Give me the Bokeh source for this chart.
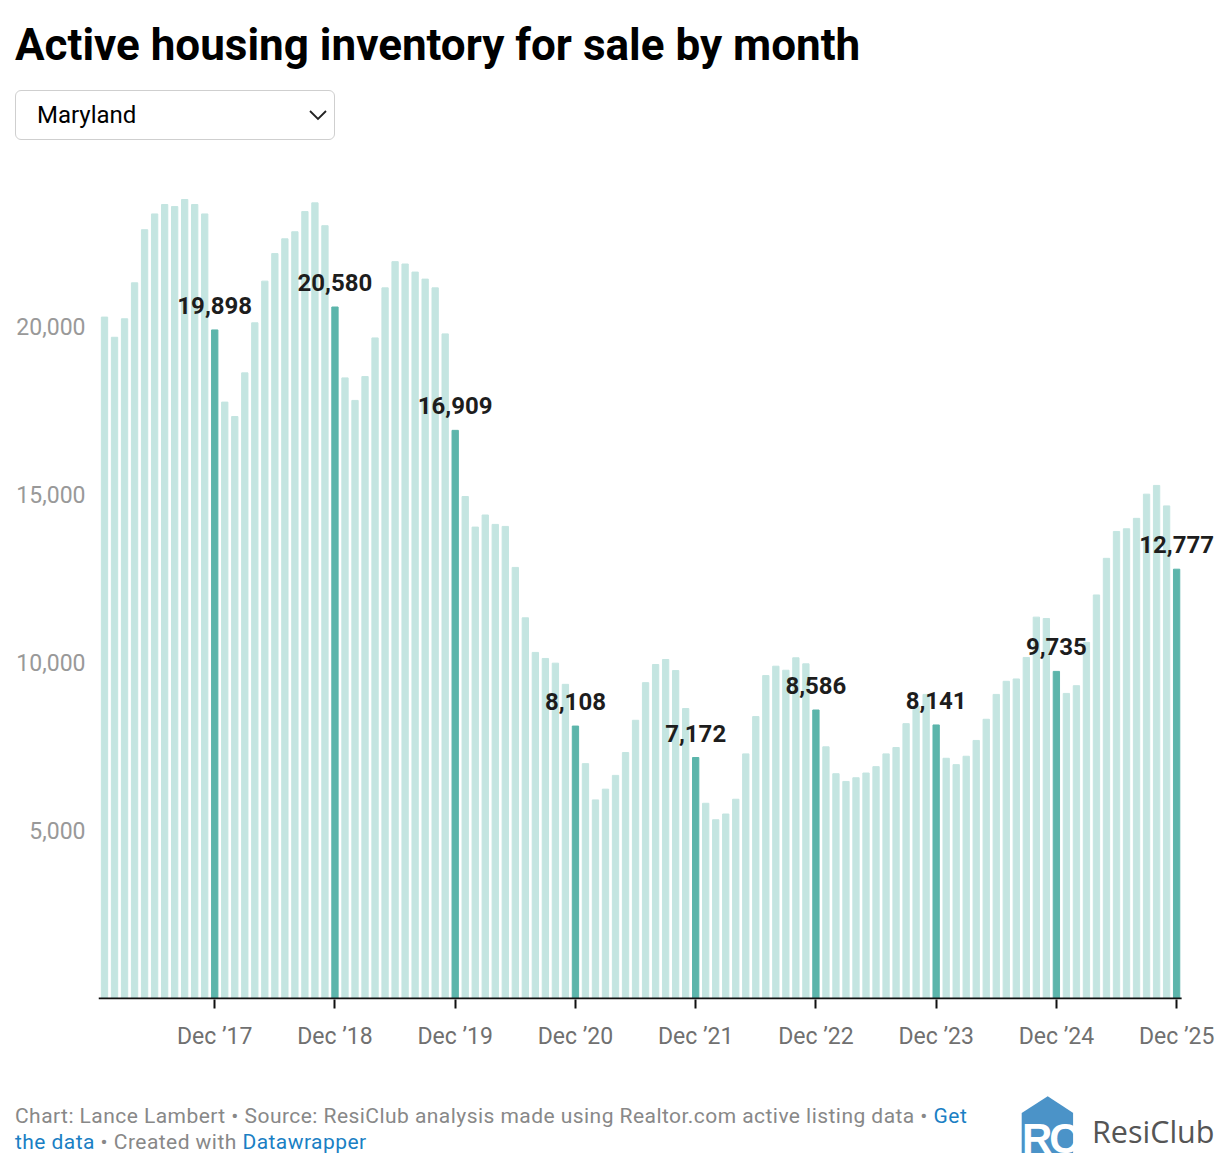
from bokeh.plotting import figure
from bokeh.models import (Range1d, FixedTicker, ColumnDataSource, LabelSet, Div,
                          NumeralTickFormatter)
from bokeh.core.properties import value
from bokeh.layouts import column
from bokeh.embed import file_html
from bokeh.resources import INLINE

# ---- data ----
years = [2017, 2018, 2019, 2020, 2021, 2022, 2023, 2024, 2025]
month_names = ["Jan", "Feb", "Mar", "Apr", "May", "Jun", "Jul", "Aug", "Sep", "Oct", "Nov", "Dec"]

inv_2017 = [20280, 19680, 20230, 21300, 22880, 23350, 23630, 23570, 23780, 23630, 23350, 19898]
inv_2018 = [17750, 17320, 18620, 20110, 21350, 22170, 22610, 22820, 23420, 23680, 23000, 20580]
inv_2019 = [18470, 17800, 18510, 19660, 21150, 21930, 21860, 21620, 21410, 21150, 19780, 16909]
inv_2020 = [14940, 14030, 14390, 14110, 14050, 12830, 11330, 10300, 10120, 9980, 9350, 8108]
inv_2021 = [6990, 5910, 6230, 6640, 7320, 8280, 9400, 9940, 10090, 9760, 8630, 7172]
inv_2022 = [5810, 5320, 5490, 5930, 7280, 8390, 9610, 9890, 9770, 10140, 9960, 8586]
inv_2023 = [7490, 6690, 6460, 6570, 6710, 6900, 7280, 7470, 8180, 8700, 9050, 8141]
inv_2024 = [7150, 6960, 7210, 7680, 8310, 9050, 9440, 9510, 10150, 11350, 11310, 9735]
inv_2025 = [9080, 9310, 10600, 12010, 13100, 13900, 13980, 14290, 15010, 15270, 14660, 12777]

x_tick_labels = ["Dec \u201917", "Dec \u201918", "Dec \u201919", "Dec \u201920", "Dec \u201921",
                 "Dec \u201922", "Dec \u201923", "Dec \u201924", "Dec \u201925"]
y_ticks = [5000, 10000, 15000, 20000]

state = "Maryland"
title_text = "Active housing inventory for sale by month"

# ---- build sources ----
inventory = inv_2017 + inv_2018 + inv_2019 + inv_2020 + inv_2021 + inv_2022 + inv_2023 + inv_2024 + inv_2025
months = [f"{m} {y}" for y in years for m in month_names]
idx = list(range(len(inventory)))
is_dec = [m.startswith("Dec") for m in months]

LIGHT = "#c4e5e1"
DARK = "#5cb5ab"
colors = [DARK if d else LIGHT for d in is_dec]

bar_src = ColumnDataSource(dict(x=idx, value=inventory, color=colors, month=months))

dec_idx = [i for i in idx if is_dec[i]]
lab_src = ColumnDataSource(dict(
    x=dec_idx,
    value=[inventory[i] for i in dec_idx],
    label=[f"{inventory[i]:,}" for i in dec_idx],
))

# ---- chart ----
FIG_W = 1218
p = figure(width=FIG_W, height=915,
           x_range=Range1d(-0.6, 110.98), y_range=Range1d(-30, 25000),
           output_backend="svg", toolbar_location=None,
           min_border_left=98, min_border_right=2, min_border_top=12, min_border_bottom=62)
p.vbar(x="x", top="value", width=0.63, color="color", source=bar_src)

# baseline (x axis line) only under the bars
p.segment(x0=[idx[0] - 0.6], x1=[idx[-1] + 0.5], y0=[0], y1=[0],
          line_color="#111111", line_width=2)

p.xgrid.visible = False
p.ygrid.visible = False
p.outline_line_color = None
p.background_fill_color = "white"
p.border_fill_color = "white"

xa = p.xaxis[0]
xa.ticker = FixedTicker(ticks=dec_idx)
xa.major_label_overrides = {i: lab for i, lab in zip(dec_idx, x_tick_labels)}
xa.axis_line_color = None
xa.major_tick_line_color = "#111111"
xa.major_tick_line_width = 2
xa.major_tick_out = 9
xa.major_tick_in = 0
xa.minor_tick_line_color = None
xa.major_label_standoff = 14
xa.major_label_text_font = "Roboto"
xa.major_label_text_font_size = "23px"
xa.major_label_text_color = "#707070"

ya = p.yaxis[0]
ya.ticker = FixedTicker(ticks=y_ticks)
ya.formatter = NumeralTickFormatter(format="0,0")
ya.axis_line_color = None
ya.major_tick_line_color = None
ya.minor_tick_line_color = None
ya.major_tick_out = 0
ya.major_tick_in = 0
ya.major_label_standoff = 13
ya.major_label_text_font = "Roboto"
ya.major_label_text_font_size = "23px"
ya.major_label_text_color = "#999999"

labels = LabelSet(x="x", y="value", text="label", source=lab_src,
                  text_align="center", text_baseline="alphabetic", y_offset=16,
                  text_font=value("Roboto"), text_font_size=value("24px"),
                  text_font_style=value("bold"), text_color=value("#1d1d1d"))
p.add_layout(labels)

# ---- header / footer ----
title_div = Div(text=(
    '<div style="margin:19px 0 0 15px;font-family:Roboto;font-weight:700;font-size:44px;'
    'line-height:52px;color:#000;white-space:nowrap">' + title_text + '</div>'),
    width=FIG_W, height=86, margin=0)

dd_div = Div(text=(
    '<div style="margin:4px 0 0 15px;box-sizing:border-box;width:320px;height:50px;'
    'border:1.5px solid #cfcfcf;border-radius:6px;display:flex;align-items:center;'
    'justify-content:space-between;padding:0 6px 0 21px;font-family:Roboto;font-size:24px;color:#000">'
    '<span>' + state + '</span>'
    '<svg width="20" height="12" viewBox="0 0 20 12"><polyline points="2,2 10,10 18,2" '
    'fill="none" stroke="#222" stroke-width="1.8"/></svg></div>'),
    width=FIG_W, height=60, margin=0)

footer_div = Div(text=(
    '<div style="position:relative;width:1218px;height:108px">'
    '<div style="position:absolute;left:15px;top:43px;font-family:Roboto;font-size:21px;'
    'letter-spacing:0.45px;line-height:25.5px;color:#888888;white-space:nowrap">'
    'Chart: Lance Lambert \u2022 Source: ResiClub analysis made using Realtor.com active listing data \u2022 '
    '<span style="color:#1a7fc4">Get</span><br><span style="color:#1a7fc4">the data</span>'
    ' \u2022 Created with <span style="color:#1a7fc4">Datawrapper</span></div>'
    '<svg style="position:absolute;left:1018px;top:33px" width="62" height="74" viewBox="0 0 62 74">'
    '<polygon points="29.7,2.3 55.3,19 55.3,59 3.7,59 3.7,19" fill="#4b93c8"/>'
    '<text x="4" y="59" font-family="Open Sans" font-weight="700" '
    'font-size="42" fill="#ffffff" letter-spacing="-3">RC</text>'
    '<rect x="55.3" y="19" width="6.7" height="45" fill="#ffffff"/></svg>'
    '<div style="position:absolute;left:1092px;top:55px;font-family:\'Open Sans\';font-size:30.5px;'
    'line-height:30px;color:#555555;white-space:nowrap">ResiClub</div>'
    '</div>'),
    width=FIG_W, height=108, margin=0)

layout = column(title_div, dd_div, p, footer_div, spacing=0)

with open("out.html", "w") as f:
    f.write(file_html(layout, INLINE))
